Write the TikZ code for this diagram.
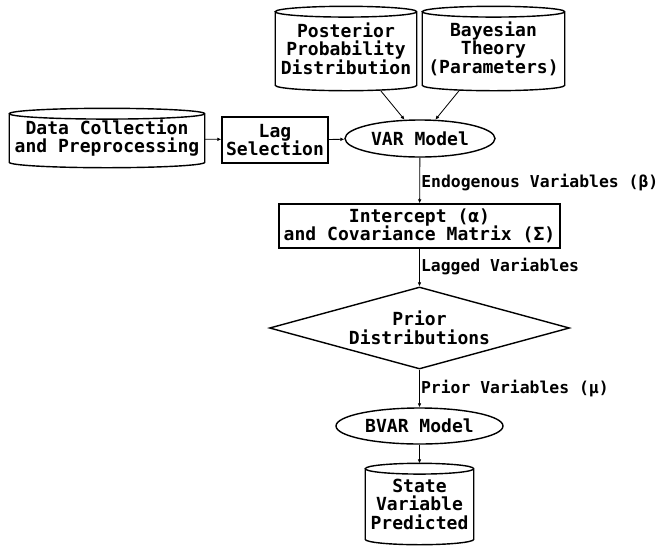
\documentclass[tikz,border=0pt]{standalone}
\usepackage{fontspec}
\setmonofont{DejaVu Sans Mono}
\usetikzlibrary{arrows.meta,calc,shapes.geometric}

% cylinder outline round a plain rectangle node
\newcommand\drawstore[1]{%
  \draw[line width=1.2pt] let \p1=(#1.north west), \p2=(#1.south east), \n1={(\x2-\x1)/2} in
    (\x1,{\y1-4.6pt}) -- (\x1,{\y2+4.6pt})
    arc[start angle=180,end angle=360,x radius=\n1,y radius=4.6pt]
    -- (\x2,{\y1-4.6pt})
    arc[start angle=0,end angle=180,x radius=\n1,y radius=4.6pt]
    arc[start angle=180,end angle=360,x radius=\n1,y radius=4.6pt];}

\begin{document}
\begin{tikzpicture}[
  x=0.03cm,y=-0.03cm,
  base/.style={draw,line width=1.2pt,align=center,inner sep=1pt,font=\ttfamily\bfseries\fontsize{15.4}{15.8}\selectfont},
  store/.style={base,draw=none,rectangle,append after command={\pgfextra{\drawstore{\tikzlastnode}}}},
  proc/.style={base,rectangle},
  model/.style={base,ellipse},
  prior/.style={base,diamond,aspect=3.66},
  flow/.style={-{Latex[length=1.2mm,width=1.1mm]},line width=0.7pt},
  lab/.style={font=\ttfamily\bfseries\fontsize{14}{16}\selectfont,right,inner sep=1pt}]
\useasboundingbox (0,0) rectangle (661,546);
\node[store,minimum width=4.2cm,minimum height=2.49cm] (post) at (346,48.5) {Posterior\\Probability\\Distribution};
\node[store,minimum width=4.23cm,minimum height=2.49cm] (bayes) at (493.5,48.5) {Bayesian\\Theory\\(Parameters)};
\node[store,minimum width=5.82cm,minimum height=1.74cm] (data) at (107,138) {Data Collection\\and Preprocessing};
\node[proc,minimum width=3.18cm,minimum height=1.38cm] (lag) at (275,140) {Lag\\Selection};
\node[model,minimum width=4.5cm,minimum height=1.11cm] (var) at (420,138.5) {VAR Model};
\node[proc,minimum width=8.43cm,minimum height=1.32cm] (icpt) at (419.5,226) {Intercept (α)\\and Covariance Matrix (Σ)};
\node[prior,minimum width=9cm,minimum height=2.46cm] (dist) at (419.5,328) {Prior\\Distributions};
\node[model,minimum width=5.01cm,minimum height=1.08cm] (bvar) at (419.5,426) {BVAR Model};
\node[store,minimum width=3.21cm,minimum height=2.4cm] (state) at (419.5,504) {State\\Variable\\Predicted};
\draw[flow] (data) -- (lag);
\draw[flow] (lag) -- (var);
\draw[flow] (post) -- (var);
\draw[flow] (bayes) -- (var);
\draw[flow] (var) -- node[lab,pos=0.55] {Endogenous Variables (β)} (icpt);
\draw[flow] (icpt) -- node[lab,pos=0.48] {Lagged Variables} (dist);
\draw[flow] (dist) -- node[lab,pos=0.5] {Prior Variables (μ)} (bvar);
\draw[flow] (bvar) -- (state);
\end{tikzpicture}
\end{document}
